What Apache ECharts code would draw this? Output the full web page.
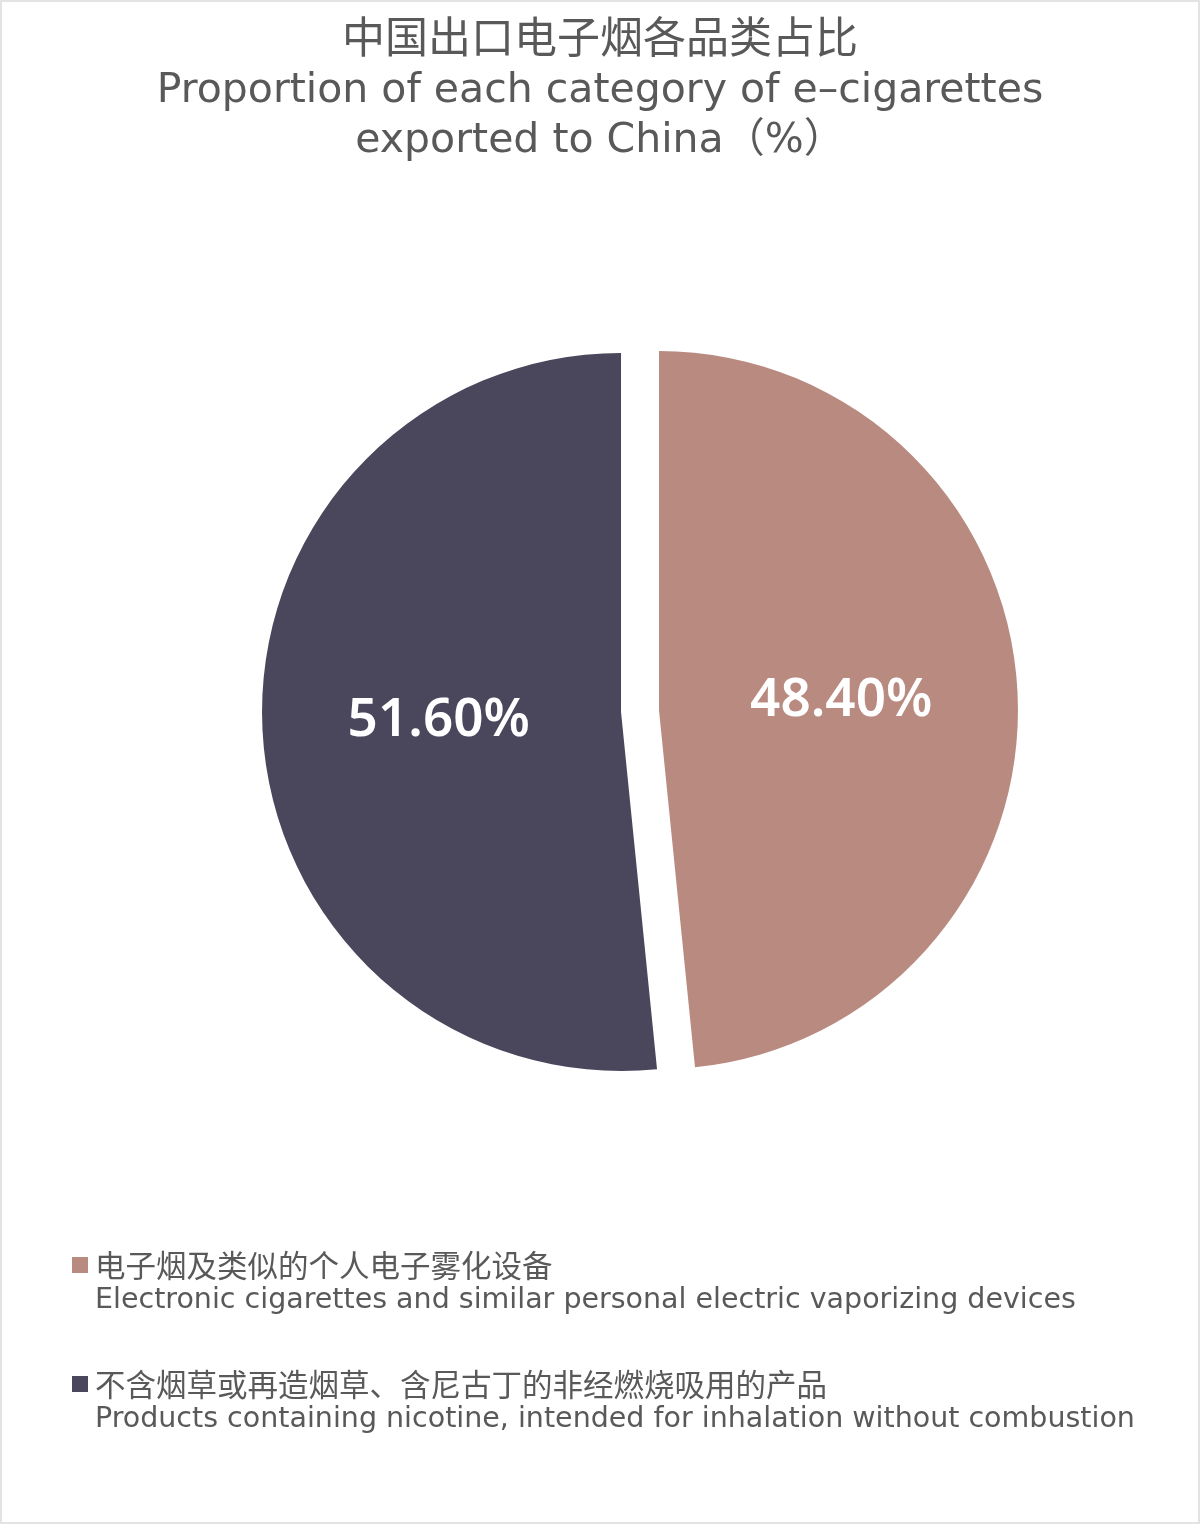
<!DOCTYPE html>
<html>
<head>
<meta charset="utf-8">
<script src="https://cdn.jsdelivr.net/npm/echarts@6/dist/echarts.min.js"></script>
<style>
  html, body { margin: 0; padding: 0; background: #fff; }
  #main { width: 1200px; height: 1524px; box-sizing: border-box; border: 2px solid #e3e3e3; }
</style>
</head>
<body>
<div id="main"></div>
<script>
// 数据
var title_cn = '中国出口电子烟各品类占比';
var title_en = ['Proportion of each category of e\u2013cigarettes', 'exported to China（%）'];
var names_cn = ['电子烟及类似的个人电子雾化设备', '不含烟草或再造烟草、含尼古丁的非经燃烧吸用的产品'];
var names_en = ['Electronic cigarettes and similar personal electric vaporizing devices',
                'Products containing nicotine, intended for inhalation without combustion'];
var values = [48.4, 51.6];
var colors = ['#B98A80', '#4A475C'];

var latin = "'DejaVu Sans', 'Noto Sans CJK SC'";
var myChart = echarts.init(document.getElementById('main'));

var pieData = names_cn.map(function (n, i) {
  return { name: n, value: values[i], selected: true, itemStyle: { color: colors[i] } };
});

var option = {
  backgroundColor: '#fff',
  animation: false,
  title: {
    text: '{cn|' + title_cn + '}\n{en|' + title_en[0] + '}\n{en|' + title_en[1] + '}',
    left: 'center',
    top: 1,
    textStyle: {
      fontWeight: 'normal',
      color: '#595959',
      rich: {
        cn: { fontFamily: 'Noto Sans CJK SC', fontSize: 43, lineHeight: 58, color: '#595959', align: 'center' },
        en: { fontFamily: latin, fontSize: 41, lineHeight: 50, color: '#595959', align: 'center' }
      }
    }
  },
  legend: {
    orient: 'vertical',
    left: 65,
    top: 1204,
    itemWidth: 16,
    itemHeight: 16,
    itemGap: 11,
    icon: 'rect',
    selectedMode: false,
    data: names_cn,
    formatter: function (name) {
      var i = names_cn.indexOf(name);
      return '{gap| }\n{cn|' + name + '}\n{en|' + names_en[i] + '}';
    },
    textStyle: {
      color: '#595959',
      lineHeight: 36,
      rich: {
        gap: { fontSize: 10, lineHeight: 36 },
        cn: { fontSize: 30.5, lineHeight: 36, color: '#595959', padding: [0, 0, 0, 2], fontFamily: 'Noto Sans CJK SC' },
        en: { fontSize: 28.5, lineHeight: 36, color: '#595959', padding: [0, 0, 0, 2], fontFamily: latin }
      }
    }
  },
  series: [{
    type: 'pie',
    center: [638, 709],
    radius: [0, 359],
    startAngle: 90,
    clockwise: true,
    selectedMode: 'multiple',
    selectedOffset: 19,
    silent: true,
    label: {
      show: true,
      position: 'inner',
      color: '#fff',
      fontSize: 53,
      fontWeight: 600,
      fontFamily: 'Noto Sans',
      formatter: function (p) { return p.value.toFixed(2) + '%'; }
    },
    labelLine: { show: false },
    emphasis: { disabled: true },
    data: pieData
  }]
};

myChart.setOption(option);
</script>
</body>
</html>
